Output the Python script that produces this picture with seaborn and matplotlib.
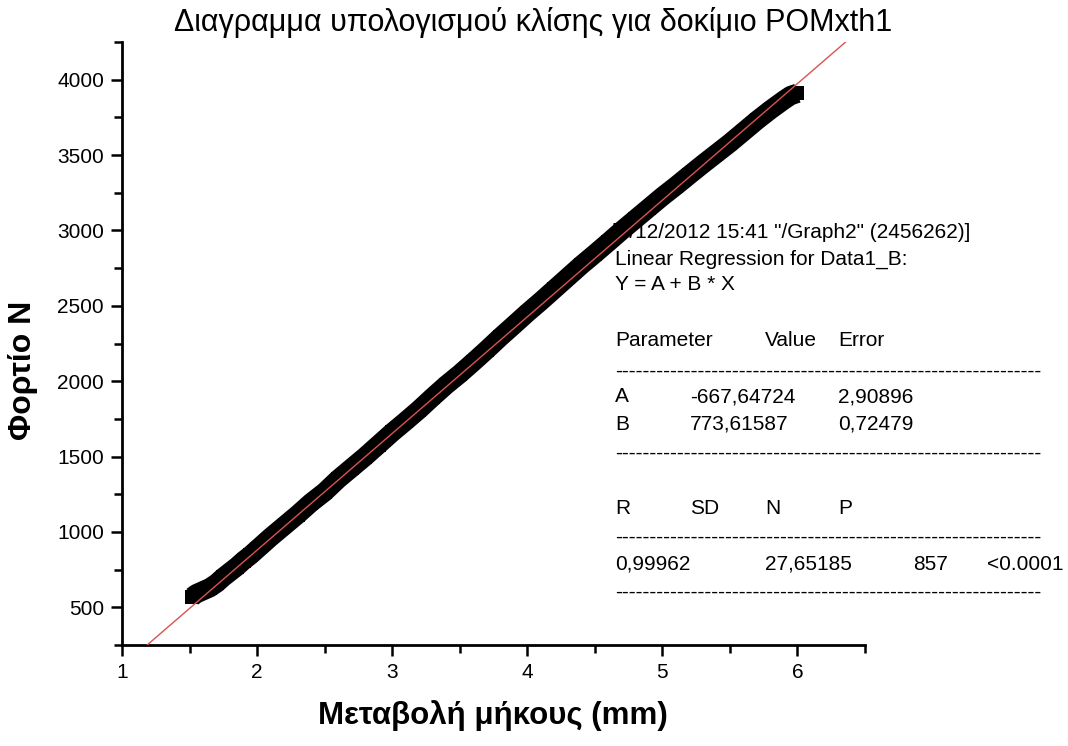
import matplotlib
matplotlib.use("Agg")
import matplotlib.pyplot as plt
import seaborn as sns
import pandas as pd
import numpy as np
from matplotlib.ticker import MultipleLocator

# ---- data ----
extension_mm = [1.52, 1.55, 1.6, 1.65, 1.7, 1.75, 1.8, 1.85, 1.9, 1.95, 2.0, 2.1, 2.2, 2.3, 2.4, 2.5,
                2.6, 2.7, 2.8, 2.9, 3.0, 3.1, 3.2, 3.3, 3.4, 3.5, 3.6, 3.7, 3.8,
                3.9, 4.0, 4.1, 4.2, 4.3, 4.4, 4.5, 4.6, 4.7, 4.8, 4.9, 5.0,
                5.1, 5.2, 5.3, 5.4, 5.5, 5.6, 5.7, 5.8, 5.9, 5.95, 6.0]
load_N = [570, 590, 610, 630, 660, 700, 735, 770, 810, 845, 885, 965, 1040, 1115, 1195, 1265,
          1350, 1425, 1500, 1580, 1660, 1735, 1812, 1895, 1975, 2048, 2127, 2208, 2292,
          2372, 2453, 2530, 2610, 2690, 2770, 2845, 2922, 3000, 3075, 3150, 3225,
          3295, 3368, 3440, 3510, 3580, 3655, 3730, 3800, 3865, 3895, 3910]

fit_A = -667.64724
fit_B = 773.61587
x_ticks = [1, 2, 3, 4, 5, 6]
y_ticks = [500, 1000, 1500, 2000, 2500, 3000, 3500, 4000]

title = "Διαγραμμα υπολογισμού κλίσης για δοκίμιο POMxth1"
xlabel = "Μεταβολή μήκους (mm)"
ylabel = "Φορτίο Ν"

report_header = ["[4/12/2012 15:41 \"/Graph2\" (2456262)]",
                 "Linear Regression for Data1_B:",
                 "Y = A + B * X"]
param_names = ["A", "B"]
param_values = ["-667,64724", "773,61587"]
param_errors = ["2,90896", "0,72479"]
stat_names = ["R", "SD", "N", "P"]
stat_values = ["0,99962", "27,65185", "857", "<0.0001"]

# ---- styling ----
sns.set_style("ticks")
plt.rcParams['font.family'] = ['Liberation Sans', 'DejaVu Sans']
plt.rcParams['text.color'] = 'black'

W, H = 1068, 746
fig = plt.figure(figsize=(W / 100, H / 100), dpi=100)
ax = fig.add_axes([122 / W, 1 - 645 / H, (865 - 122) / W, (645 - 42) / H])

df = pd.DataFrame({"x": extension_mm, "y": load_N})
sns.lineplot(data=df, x="x", y="y", ax=ax, color="black", linewidth=14,
             solid_capstyle="butt", solid_joinstyle="round", sort=True, zorder=3)
sns.scatterplot(data=df, x="x", y="y", ax=ax, color="black", marker="s", s=105,
                edgecolor="black", linewidth=0, zorder=3)

fit_x = np.array([1.0, 6.5])
fit_df = pd.DataFrame({"x": fit_x, "y": fit_A + fit_B * fit_x})
sns.lineplot(data=fit_df, x="x", y="y", ax=ax, color="#d9534f", linewidth=1.0, zorder=4)

ax.set_xlim(1, 6.5)
ax.set_ylim(250, 4250)
ax.set_xticks(x_ticks)
ax.set_yticks(y_ticks)
ax.xaxis.set_minor_locator(MultipleLocator(0.5))
ax.yaxis.set_minor_locator(MultipleLocator(250))
ax.tick_params(axis="both", which="major", direction="out", length=8, width=1.8,
               labelsize=15, color="black", labelcolor="black", pad=5)
ax.tick_params(axis="both", which="minor", direction="out", length=6, width=1.8, color="black")
for s in ["left", "bottom"]:
    ax.spines[s].set_linewidth(2)
    ax.spines[s].set_color("black")
sns.despine(ax=ax)
ax.set_xlabel("")
ax.set_ylabel("")
ax.patch.set_alpha(0)

fig.text(533 / W, 1 - 23 / H, title, ha="center", va="center", fontsize=22, color="black")
fig.text(493 / W, 1 - 716 / H, xlabel, ha="center", va="center", fontsize=22.5,
         fontweight="bold", color="black")
fig.text(23 / W, 1 - 370 / H, ylabel, ha="center", va="center", rotation=90, fontsize=23,
         fontweight="bold", color="black")

# ---- regression report (drawn under the data band) ----
def put(px, py, s):
    ax.text(px / W, 1 - py / H, s, transform=fig.transFigure, ha="left", va="center",
            fontsize=15, color="black", clip_on=False, zorder=1)

dashes = "-" * 62
put(612, 232, report_header[0])
put(615, 259, report_header[1])
put(615, 285, report_header[2])
put(615, 341, "Parameter")
put(765, 341, "Value")
put(838, 341, "Error")
put(615, 371, dashes)
for i, (n, v, e) in enumerate(zip(param_names, param_values, param_errors)):
    put(615, 397 + 27 * i, n)
    put(690, 397 + 27 * i, v)
    put(838, 397 + 27 * i, e)
put(615, 453, dashes)
for n, px in zip(stat_names, [615, 690, 765, 838]):
    put(px, 508, n)
put(615, 537, dashes)
for v, px in zip(stat_values, [615, 765, 913, 987]):
    put(px, 564, v)
put(615, 592, dashes)

fig.savefig("out.png", dpi=100)
